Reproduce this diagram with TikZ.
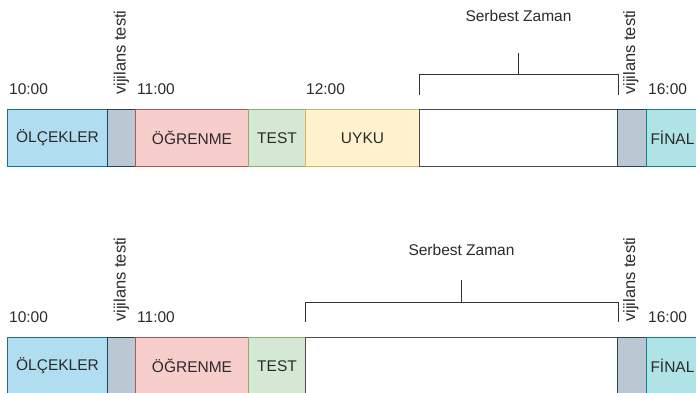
\documentclass[tikz,border=0pt]{standalone}
\usepackage{fontspec}
\setmainfont{Liberation Sans}
\definecolor{bluef}{HTML}{B1DDF0}\definecolor{blued}{HTML}{10739E}
\definecolor{grayf}{HTML}{BAC8D3}\definecolor{grayd}{HTML}{23445D}
\definecolor{redf}{HTML}{F8CECC}\definecolor{redd}{HTML}{B85450}
\definecolor{greenf}{HTML}{D5E8D4}\definecolor{greend}{HTML}{82B366}
\definecolor{yellowf}{HTML}{FFF2CC}\definecolor{yellowd}{HTML}{D6B656}
\definecolor{tealf}{HTML}{B0E3E6}\definecolor{teald}{HTML}{0E8088}
\definecolor{txt}{HTML}{2B2B2B}
\begin{document}
\begin{tikzpicture}[x=1pt,y=-1pt,
  every node/.style={font=\fontsize{15.5}{18}\selectfont, text=txt},
  blk/.style={draw, line width=1pt, minimum height=57pt, anchor=north west, inner sep=0pt},
  tlabel/.style={anchor=base west, inner sep=0pt},
  vlabel/.style={rotate=90, anchor=base west, inner sep=0pt, font=\fontsize{16.5}{19}\selectfont},
  brk/.style={line width=1pt, draw=black!80}]
\useasboundingbox (0,0) rectangle (696,392);
% ---- top row
\node[blk, fill=bluef, draw=blued, minimum width=100pt] (a1) at (7,109) {ÖLÇEKLER};
\node[blk, fill=grayf, draw=grayd, minimum width=28pt] (a2) at (107,109) {};
\node[blk, fill=redf, draw=redd, minimum width=113pt] (a3) at (135,109) {ÖĞRENME};
\node[blk, fill=greenf, draw=greend, minimum width=57pt] (a4) at (248,109) {TEST};
\node[blk, fill=yellowf, draw=yellowd, minimum width=114pt] (a5) at (305,109) {UYKU};
\node[blk, fill=white, draw=black!70, minimum width=198pt] (a6) at (419,109) {};
\node[blk, fill=grayf, draw=grayd, minimum width=29pt] (a7) at (617,109) {};
\node[blk, fill=tealf, draw=teald, minimum width=120pt, text width=112pt, align=left, inner xsep=4pt] (a8) at (646,109) {FİNAL};
\node[tlabel] (ta1) at ([xshift=2pt,yshift=15pt]a1.north west) {10:00};
\node[tlabel] (ta3) at ([xshift=2pt,yshift=15pt]a3.north west) {11:00};
\node[tlabel] (ta5) at ([xshift=1pt,yshift=15pt]a5.north west) {12:00};
\node[tlabel] (ta8) at ([xshift=2pt,yshift=15pt]a8.north west) {16:00};
\node[vlabel] (va2) at ([xshift=4pt,yshift=14pt]a2.north) {vijilans testi};
\node[vlabel] (va7) at ([xshift=3pt,yshift=14pt]a7.north) {vijilans testi};
\draw[brk] ([yshift=14pt]a6.north west) -- ([yshift=35pt]a6.north west) -- ([yshift=35pt]a6.north east) -- ([yshift=14pt]a6.north east);
\coordinate (ka) at ([yshift=56pt]a6.north);
\draw[brk] ([yshift=35pt]a6.north) -- (ka);
\node (sa) at ([yshift=93pt]a6.north) {Serbest Zaman};
% ---- bottom row
\node[blk, fill=bluef, draw=blued, minimum width=100pt] (b1) at (7,337) {ÖLÇEKLER};
\node[blk, fill=grayf, draw=grayd, minimum width=28pt] (b2) at (107,337) {};
\node[blk, fill=redf, draw=redd, minimum width=113pt] (b3) at (135,337) {ÖĞRENME};
\node[blk, fill=greenf, draw=greend, minimum width=57pt] (b4) at (248,337) {TEST};
\node[blk, fill=white, draw=black!70, minimum width=312pt] (b6) at (305,337) {};
\node[blk, fill=grayf, draw=grayd, minimum width=29pt] (b7) at (617,337) {};
\node[blk, fill=tealf, draw=teald, minimum width=120pt, text width=112pt, align=left, inner xsep=4pt] (b8) at (646,337) {FİNAL};
\node[tlabel] (tb1) at ([xshift=2pt,yshift=15pt]b1.north west) {10:00};
\node[tlabel] (tb3) at ([xshift=2pt,yshift=15pt]b3.north west) {11:00};
\node[tlabel] (tb8) at ([xshift=2pt,yshift=15pt]b8.north west) {16:00};
\node[vlabel] (vb2) at ([xshift=4pt,yshift=15pt]b2.north) {vijilans testi};
\node[vlabel] (vb7) at ([xshift=3pt,yshift=15pt]b7.north) {vijilans testi};
\draw[brk] ([yshift=15pt]b6.north west) -- ([yshift=35pt]b6.north west) -- ([yshift=35pt]b6.north east) -- ([yshift=15pt]b6.north east);
\coordinate (kb) at ([yshift=57pt]b6.north);
\draw[brk] ([yshift=35pt]b6.north) -- (kb);
\node (sb) at ([yshift=87pt]b6.north) {Serbest Zaman};
\end{tikzpicture}
\end{document}
